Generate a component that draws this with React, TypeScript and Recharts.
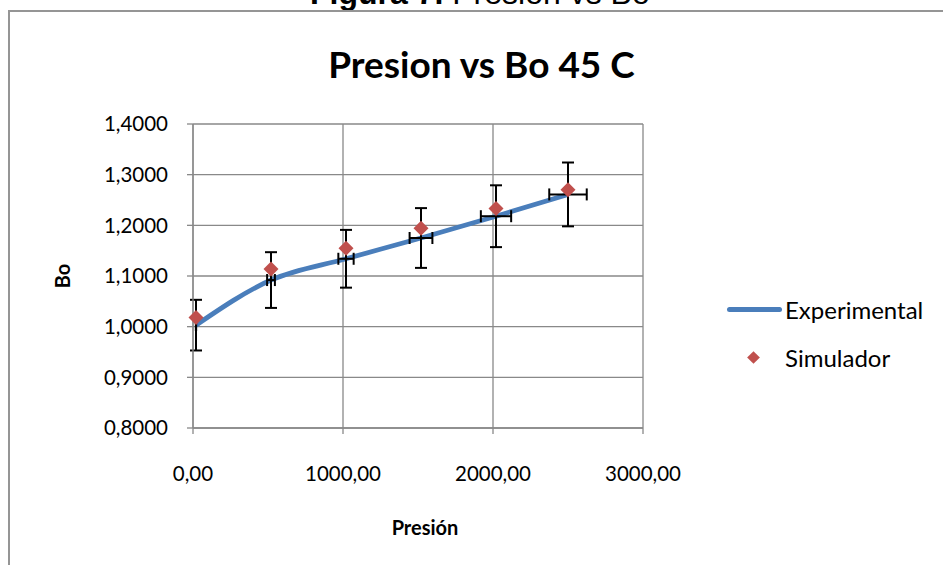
import {
  ComposedChart,
  Line,
  Scatter,
  XAxis,
  YAxis,
  CartesianGrid,
  ErrorBar,
} from 'recharts'

// Presión (x) and Bo values
const presion = [20, 520, 1020, 1520, 2020, 2500]
const boExperimental = [1.003, 1.092, 1.134, 1.175, 1.218, 1.261]
const boSimulador = [1.018, 1.114, 1.155, 1.194, 1.233, 1.27]
// error bar half-lengths on the experimental points
const errBo = [0.05, 0.055, 0.057, 0.059, 0.061, 0.063]
const errPresion = [1, 26, 51, 76, 101, 125]

const xTicks = [0, 1000, 2000, 3000]
const yTicks = [0.8, 0.9, 1.0, 1.1, 1.2, 1.3, 1.4]

const experimental = presion.map((p, i) => ({
  p,
  bo: boExperimental[i],
  ey: errBo[i],
  ex: errPresion[i],
}))
const simulador = presion.map((p, i) => ({ p, bo: boSimulador[i] }))

const FONT = 'Lato, "Open Sans", sans-serif'
const GRID = '#898989'
const BLUE = '#4a7ebb'
const RED = '#c0504d'

const Diamond = (props: any) => {
  const { cx, cy } = props
  const r = 7.5
  return (
    <path
      d={`M${cx},${cy - r} L${cx + r},${cy} L${cx},${cy + r} L${cx - r},${cy} Z`}
      fill={RED}
    />
  )
}

const NoShape = () => <g />

export default function App() {
  return (
    <div
      style={{
        position: 'absolute',
        left: 0,
        top: 0,
        width: 943,
        height: 565,
        overflow: 'hidden',
        background: '#fff',
        fontFamily: FONT,
      }}
    >
      {/* figure caption, cut off at the top */}
      <div
        style={{
          position: 'absolute',
          left: 310,
          top: -25,
          whiteSpace: 'nowrap',
          fontFamily: '"Liberation Sans", Arial, sans-serif',
          fontSize: 32,
          lineHeight: '36px',
        }}
      >
        <b>Figura 7.</b> Presion vs Bo
      </div>

      {/* chart frame */}
      <div
        style={{
          position: 'absolute',
          left: 8,
          top: 10,
          width: 960,
          height: 580,
          borderTop: '2px solid #959595',
          borderLeft: '2px solid #959595',
        }}
      />

      <div
        style={{
          position: 'absolute',
          left: 0,
          width: 963,
          top: 42,
          textAlign: 'center',
          fontSize: 37,
          fontWeight: 700,
          lineHeight: '44px',
        }}
      >
        Presion vs Bo 45 C
      </div>

      <div style={{ position: 'absolute', left: 0, top: 0 }}>
        <ComposedChart
          width={943}
          height={565}
          margin={{ top: 124, right: 300, bottom: 97, left: 133 }}
        >
          <CartesianGrid stroke={GRID} strokeWidth={1.3} />
          <XAxis
            type="number"
            dataKey="p"
            domain={[0, 3000]}
            ticks={xTicks}
            height={40}
            stroke={GRID}
            strokeWidth={1.3}
            tickSize={6}
            tickMargin={32}
            tick={{ fill: '#000', fontSize: 20.5, fontFamily: FONT }}
            tickFormatter={(v: number) => v.toFixed(2).replace('.', ',')}
            label={{
              value: 'Presión',
              position: 'bottom',
              offset: 53,
              dx: 7,
              fill: '#000',
              fontSize: 20,
              fontWeight: 700,
              fontFamily: FONT,
            }}
          />
          <YAxis
            type="number"
            dataKey="bo"
            domain={[0.8, 1.4]}
            ticks={yTicks}
            width={60}
            stroke={GRID}
            strokeWidth={1.3}
            tickSize={6}
            tickMargin={19}
            tick={{ fill: '#000', fontSize: 20.5, fontFamily: FONT }}
            tickFormatter={(v: number) => v.toFixed(4).replace('.', ',')}
            label={{
              value: 'Bo',
              angle: -90,
              position: 'left',
              offset: 70,
              fill: '#000',
              fontSize: 20,
              fontWeight: 700,
              fontFamily: FONT,
              textAnchor: 'middle',
            }}
          />
          <Line
            data={experimental}
            dataKey="bo"
            type="monotone"
            stroke={BLUE}
            strokeWidth={4.8}
            dot={false}
            activeDot={false}
            isAnimationActive={false}
          />
          <Scatter
            data={experimental}
            dataKey="bo"
            shape={NoShape}
            isAnimationActive={false}
          >
            <ErrorBar dataKey="ey" direction="y" width={6} stroke="#000" strokeWidth={2} />
            <ErrorBar dataKey="ex" direction="x" width={6} stroke="#000" strokeWidth={2} />
          </Scatter>
          <Scatter
            data={simulador}
            dataKey="bo"
            shape={Diamond}
            isAnimationActive={false}
          />
        </ComposedChart>
      </div>

      {/* legend */}
      <div style={{ position: 'absolute', left: 727, top: 295, fontSize: 24 }}>
        <div style={{ display: 'flex', alignItems: 'center', height: 28 }}>
          <span
            style={{
              width: 55,
              height: 5,
              borderRadius: 3,
              background: BLUE,
              display: 'inline-block',
            }}
          />
          <span style={{ marginLeft: 3 }}>Experimental</span>
        </div>
        <div style={{ display: 'flex', alignItems: 'center', height: 28, marginTop: 20 }}>
          <span style={{ width: 53, display: 'inline-flex', justifyContent: 'center' }}>
            <span
              style={{
                width: 9,
                height: 9,
                background: RED,
                transform: 'rotate(45deg)',
                display: 'inline-block',
              }}
            />
          </span>
          <span style={{ marginLeft: 5 }}>Simulador</span>
        </div>
      </div>
    </div>
  )
}
